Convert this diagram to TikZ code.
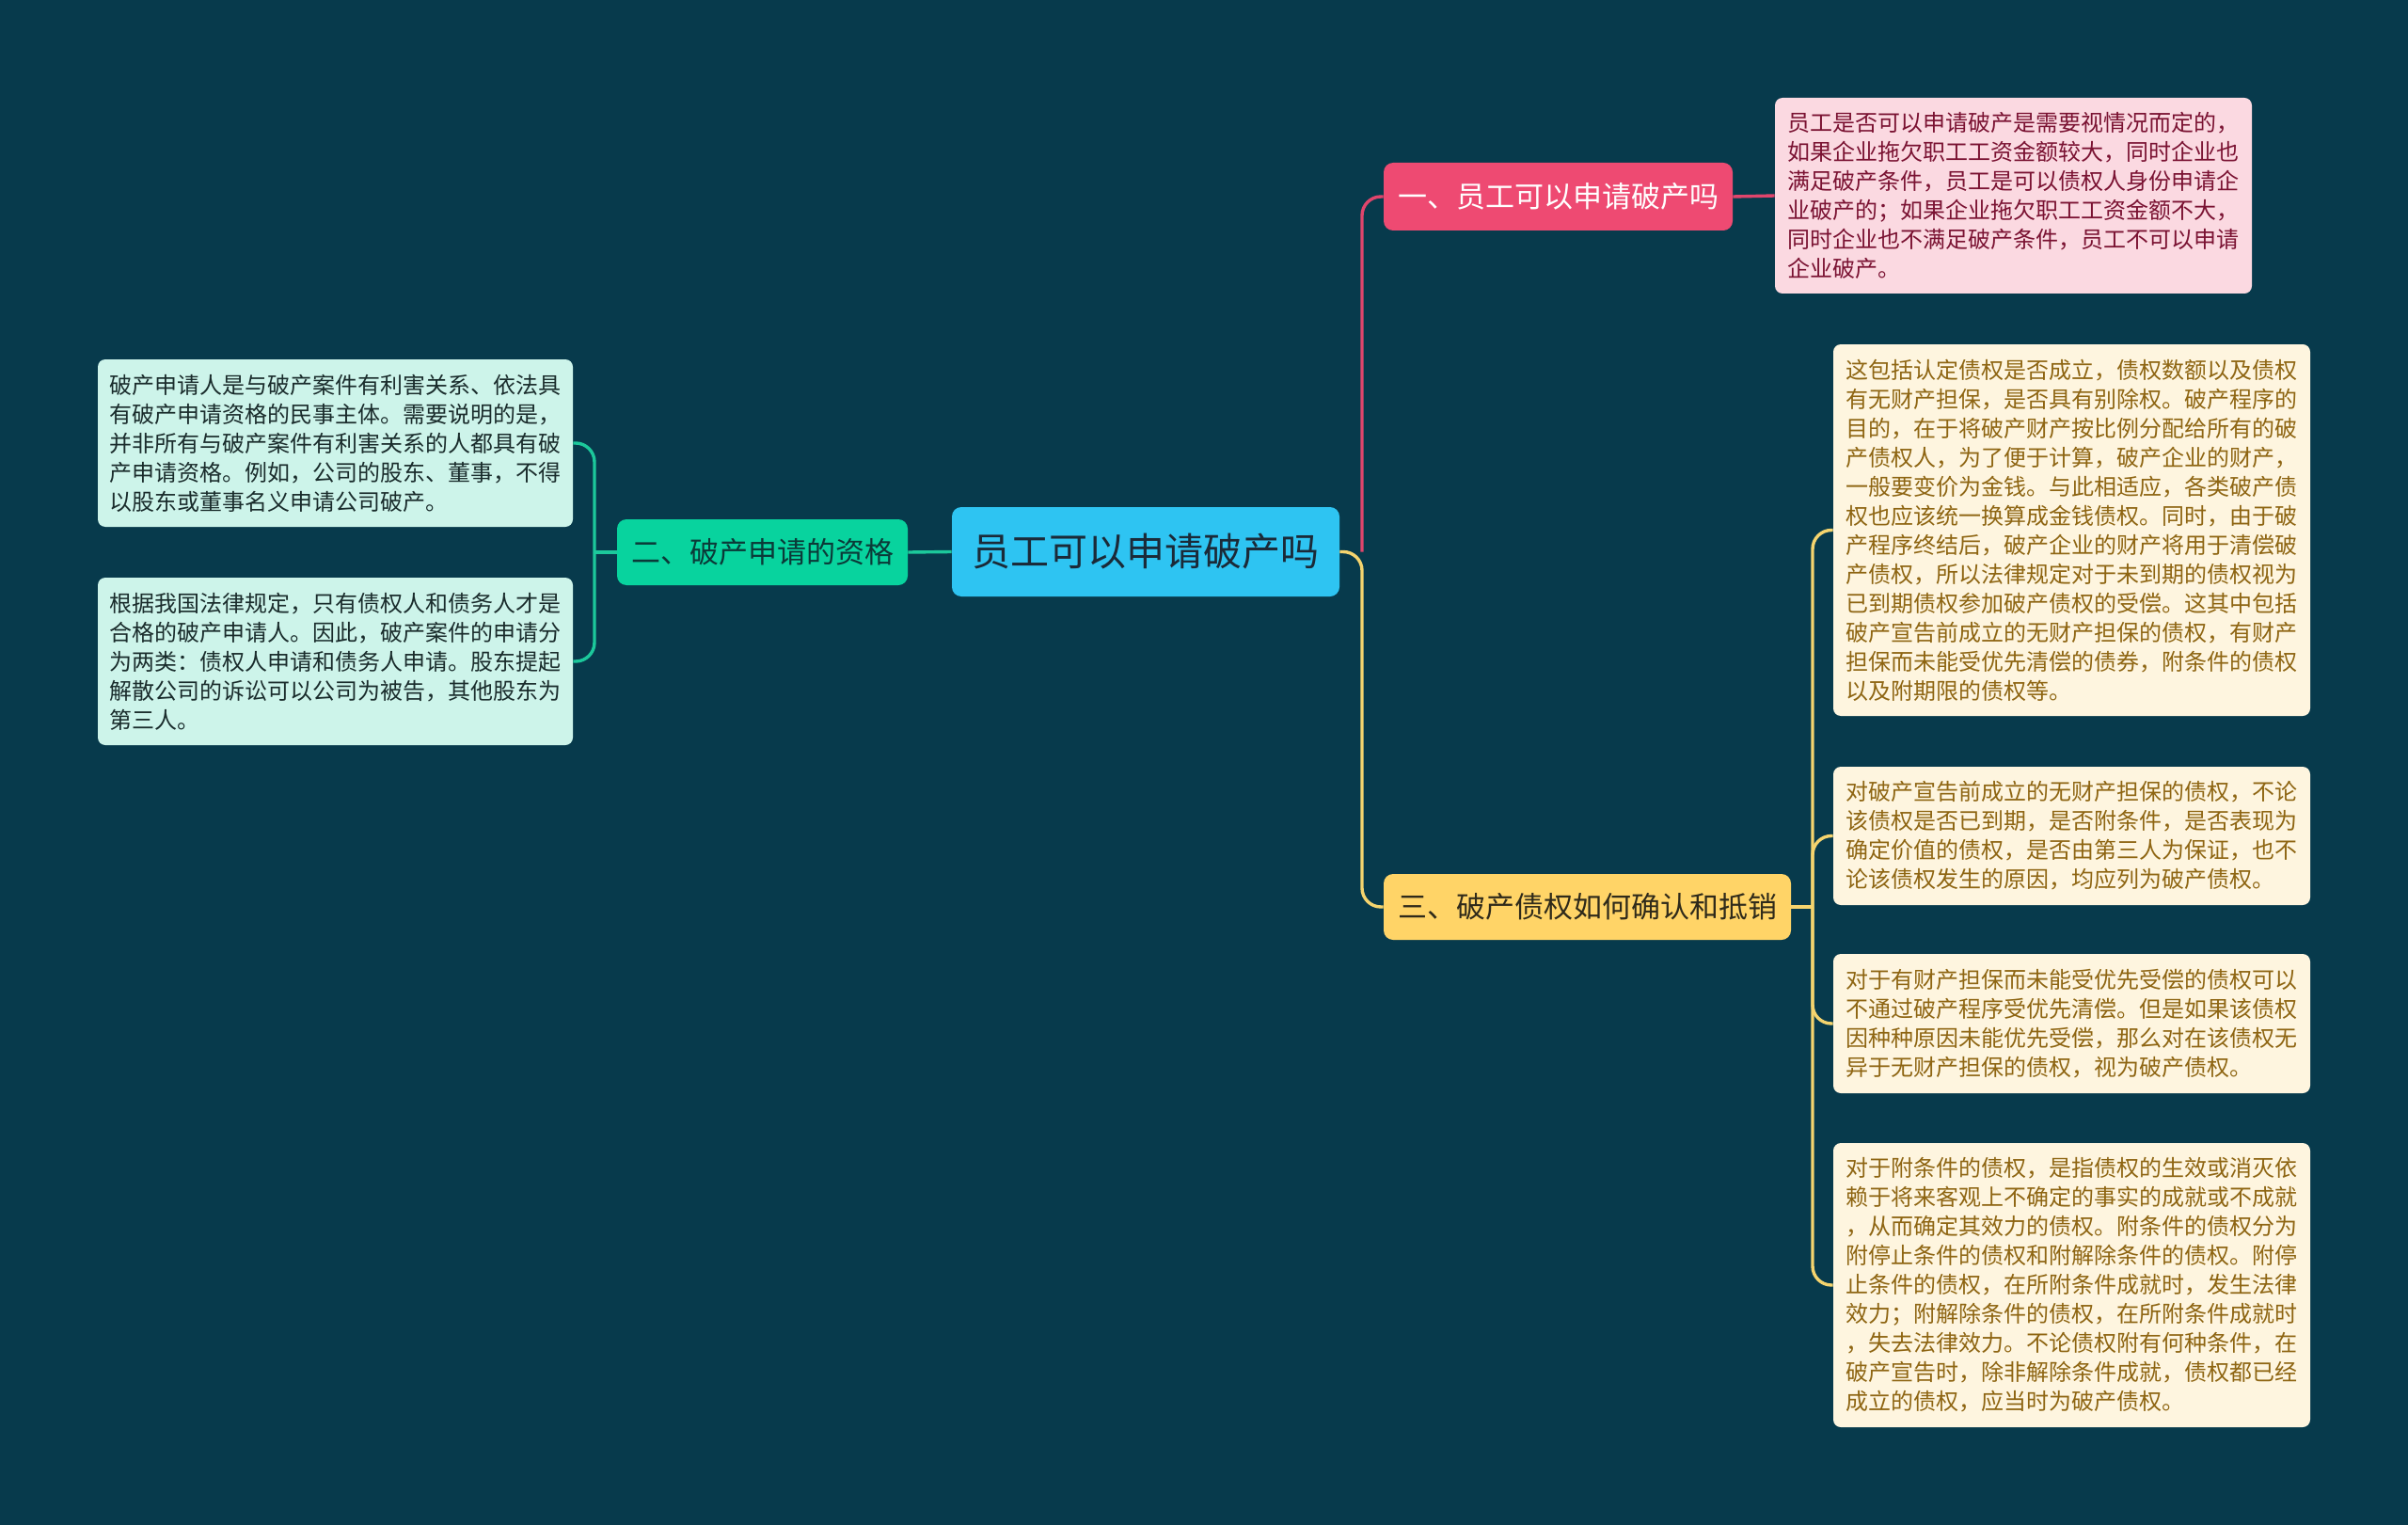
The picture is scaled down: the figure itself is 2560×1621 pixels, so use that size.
\documentclass[tikz,border=0pt]{standalone}
\usepackage{fontspec}
\setmainfont{Noto Sans CJK SC}
\definecolor{bg}{HTML}{073A4C}
\definecolor{cfill}{HTML}{2EC4F2}
\definecolor{ctext}{HTML}{1B2A38}
\definecolor{pkfill}{HTML}{EE4A72}
\definecolor{pkline}{HTML}{E0456C}
\definecolor{pkbox}{HTML}{FBD9E1}
\definecolor{pktext}{HTML}{7A1232}
\definecolor{grfill}{HTML}{08D39E}
\definecolor{grline}{HTML}{1CC89B}
\definecolor{grtext}{HTML}{0B3A38}
\definecolor{grbox}{HTML}{CDF4EA}
\definecolor{grboxtext}{HTML}{1A2C2C}
\definecolor{ylfill}{HTML}{FFD467}
\definecolor{ylline}{HTML}{F5D46E}
\definecolor{yltext}{HTML}{2F2A1A}
\definecolor{ylbox}{HTML}{FEF5DF}
\definecolor{ylboxtext}{HTML}{8E6512}
\tikzset{
  box/.style={rounded corners=4pt, inner sep=0pt, align=left, font=\fontsize{12}{15.5}\selectfont},
  topic/.style={rounded corners=5pt, inner sep=0pt, font=\fontsize{15.5}{18}\selectfont},
  conn/.style={line width=1.7pt, rounded corners=10pt},
}
\begin{document}
\begin{tikzpicture}[x=0.5pt,y=-0.5pt]
\fill[bg] (0,0) rectangle (2560,1621);
\useasboundingbox (0,0) rectangle (2560,1621);

% central
\node[fill=cfill, text=ctext, rounded corners=5pt, inner sep=0pt, font=\fontsize{20.5}{24}\selectfont,
  minimum width=206pt, minimum height=47.5pt] (c) at (1218,586.5) {员工可以申请破产吗};

% branch nodes
\node[topic, fill=pkfill, text=white, minimum width=185.5pt, minimum height=36pt] (p1) at (1656.5,209) {一、员工可以申请破产吗};
\node[topic, fill=grfill, text=grtext, minimum width=154.5pt, minimum height=35pt] (g2) at (810.5,587) {二、破产申请的资格};
\node[topic, fill=ylfill, text=yltext, minimum width=216.5pt, minimum height=35pt] (y3) at (1687.5,964) {三、破产债权如何确认和抵销};

% pink leaf
\node[box, fill=pkbox, text=pktext, minimum width=253.5pt, minimum height=104pt] (pb) at (2140.5,208) {员工是否可以申请破产是需要视情况而定的，\\如果企业拖欠职工工资金额较大，同时企业也\\满足破产条件，员工是可以债权人身份申请企\\业破产的；如果企业拖欠职工工资金额不大，\\同时企业也不满足破产条件，员工不可以申请\\企业破产。};

% green leaves
\node[box, fill=grbox, text=grboxtext, minimum width=252.5pt, minimum height=89pt] (l1) at (356.5,471) {破产申请人是与破产案件有利害关系、依法具\\有破产申请资格的民事主体。需要说明的是，\\并非所有与破产案件有利害关系的人都具有破\\产申请资格。例如，公司的股东、董事，不得\\以股东或董事名义申请公司破产。};
\node[box, fill=grbox, text=grboxtext, minimum width=252.5pt, minimum height=89pt] (l2) at (356.5,703) {根据我国法律规定，只有债权人和债务人才是\\合格的破产申请人。因此，破产案件的申请分\\为两类：债权人申请和债务人申请。股东提起\\解散公司的诉讼可以公司为被告，其他股东为\\第三人。};

% yellow leaves
\node[box, fill=ylbox, text=ylboxtext, minimum width=253.5pt, minimum height=197.5pt] (r1) at (2202.5,563.5) {这包括认定债权是否成立，债权数额以及债权\\有无财产担保，是否具有别除权。破产程序的\\目的，在于将破产财产按比例分配给所有的破\\产债权人，为了便于计算，破产企业的财产，\\一般要变价为金钱。与此相适应，各类破产债\\权也应该统一换算成金钱债权。同时，由于破\\产程序终结后，破产企业的财产将用于清偿破\\产债权，所以法律规定对于未到期的债权视为\\已到期债权参加破产债权的受偿。这其中包括\\破产宣告前成立的无财产担保的债权，有财产\\担保而未能受优先清偿的债券，附条件的债权\\以及附期限的债权等。};
\node[box, fill=ylbox, text=ylboxtext, minimum width=253.5pt, minimum height=73.5pt] (r2) at (2202.5,888.5) {对破产宣告前成立的无财产担保的债权，不论\\该债权是否已到期，是否附条件，是否表现为\\确定价值的债权，是否由第三人为保证，也不\\论该债权发生的原因，均应列为破产债权。};
\node[box, fill=ylbox, text=ylboxtext, minimum width=253.5pt, minimum height=74pt] (r3) at (2202.5,1088) {对于有财产担保而未能受优先受偿的债权可以\\不通过破产程序受优先清偿。但是如果该债权\\因种种原因未能优先受偿，那么对在该债权无\\异于无财产担保的债权，视为破产债权。};
\node[box, fill=ylbox, text=ylboxtext, minimum width=253.5pt, minimum height=151pt] (r4) at (2202.5,1366) {对于附条件的债权，是指债权的生效或消灭依\\赖于将来客观上不确定的事实的成就或不成就\\，从而确定其效力的债权。附条件的债权分为\\附停止条件的债权和附解除条件的债权。附停\\止条件的债权，在所附条件成就时，发生法律\\效力；附解除条件的债权，在所附条件成就时\\，失去法律效力。不论债权附有何种条件，在\\破产宣告时，除非解除条件成就，债权都已经\\成立的债权，应当时为破产债权。};

% trunk coordinates
\coordinate (tr) at (1448,586.5);
\coordinate (gt) at (632,587);
\coordinate (yt) at (1927,964);

% connectors
\draw[conn, pkline] (tr) |- (p1.west);
\draw[conn, pkline] (p1.east) -- (pb.west);
\draw[conn, ylline] (c.east) -- (tr) |- (y3.west);
\draw[conn, grline] (c.west) -- (g2.east);
\draw[conn, grline] (g2.west) -- (gt);
\draw[conn, grline] (gt) |- (l1.east);
\draw[conn, grline] (gt) |- (l2.east);
\draw[conn, ylline] (y3.east) -- (yt);
\draw[conn, ylline] (yt) |- (r1.west);
\draw[conn, ylline] (yt) |- (r2.west);
\draw[conn, ylline] (yt) |- (r3.west);
\draw[conn, ylline] (yt) |- (r4.west);
\end{tikzpicture}
\end{document}
